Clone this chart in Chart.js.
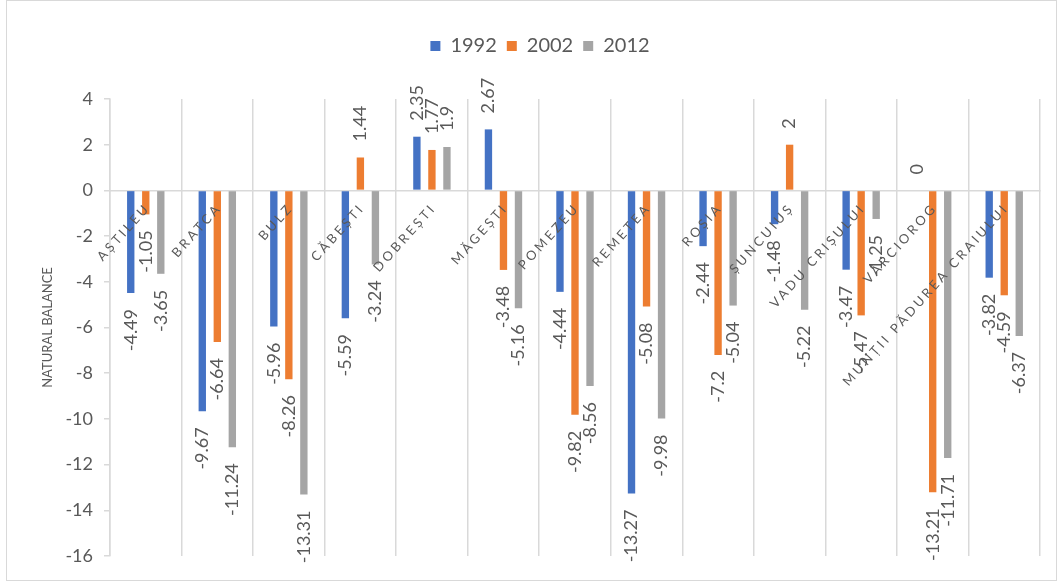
<!DOCTYPE html>
<html>
<head>
<meta charset="utf-8">
<title>Natural balance 1992 / 2002 / 2012</title>
<script src="https://cdn.jsdelivr.net/npm/chart.js@4.4.1/dist/chart.umd.min.js"></script>
<style>
  html, body { margin: 0; padding: 0; background: #ffffff; }
  canvas { display: block; }
</style>
</head>
<body>
<canvas id="chart" width="1063" height="581"></canvas>
<script>
// Localities on the category axis
const categories = [
  'AȘTILEU', 'BRATCA', 'BULZ', 'CĂBEȘTI', 'DOBREȘTI', 'MĂGEȘTI', 'POMEZEU',
  'REMETEA', 'ROȘIA', 'ȘUNCUIUȘ', 'VADU CRIȘULUI', 'VÂRCIOROG', 'MUNȚII PĂDUREA CRAIULUI'
];

// Census years (one series each)
const years = ['1992', '2002', '2012'];

// Natural balance per locality and year
const values1992 = [-4.49, -9.67, -5.96, -5.59, 2.35, 2.67, -4.44, -13.27, -2.44, -1.48, -3.47, 0, -3.82];
const values2002 = [-1.05, -6.64, -8.26, 1.44, 1.77, -3.48, -9.82, -5.08, -7.2, 2, -5.47, -13.21, -4.59];
const values2012 = [-3.65, -11.24, -13.31, -3.24, 1.9, -5.16, -8.56, -9.98, -5.04, -5.22, -1.25, -11.71, -6.37];

// Value axis ticks
const yTickMin = -16;
const yTickMax = 4;
const yTickStep = 2;
const yAxisTitle = 'NATURAL BALANCE';

const seriesColors = ['#4472C4', '#ED7D31', '#A5A5A5'];
const textColor = '#595959';
const lineColor = '#d9d9d9';
const fontFamily = "Lato, 'Liberation Sans', sans-serif";

// Light frame around the whole chart
const framePlugin = {
  id: 'frame',
  beforeDraw(chart) {
    const ctx = chart.ctx;
    ctx.save();
    ctx.strokeStyle = lineColor;
    ctx.lineWidth = 1;
    ctx.strokeRect(6.5, 0.5, chart.width - 13, chart.height - 1);
    ctx.restore();
  }
};

// Leaves room between the legend and the plot
const legendSpacePlugin = {
  id: 'legendSpace',
  beforeInit(chart) {
    const originalFit = chart.legend.fit;
    chart.legend.fit = function () {
      originalFit.call(this);
      this.height = 73;
    };
  }
};

// Category names written slanted along the zero line
const categoryLabelPlugin = {
  id: 'categoryLabels',
  afterDatasetsDraw(chart) {
    const ctx = chart.ctx;
    const xScale = chart.scales.x;
    const zeroY = chart.scales.y.getPixelForValue(0);
    ctx.save();
    ctx.font = '13px ' + fontFamily;
    ctx.fillStyle = textColor;
    ctx.textAlign = 'right';
    ctx.textBaseline = 'middle';
    if ('letterSpacing' in ctx) ctx.letterSpacing = '3px';
    categories.forEach((name, i) => {
      const cx = xScale.getPixelForValue(i);
      ctx.save();
      ctx.translate(cx + 2, zeroY + 15);
      ctx.rotate(-48 * Math.PI / 180);
      ctx.fillText(name, 0, 0);
      ctx.restore();
    });
    ctx.restore();
  }
};

// Vertical value labels just beyond the end of each bar
const valueLabelPlugin = {
  id: 'valueLabels',
  afterDatasetsDraw(chart) {
    const ctx = chart.ctx;
    ctx.save();
    ctx.font = '18px ' + fontFamily;
    ctx.fillStyle = textColor;
    ctx.textBaseline = 'middle';
    chart.data.datasets.forEach((ds, di) => {
      const meta = chart.getDatasetMeta(di);
      meta.data.forEach((bar, i) => {
        const v = ds.data[i];
        const positive = v >= 0;
        ctx.save();
        ctx.translate(bar.x, positive ? bar.y - 16 : bar.y + 16);
        ctx.rotate(-Math.PI / 2);
        ctx.textAlign = positive ? 'left' : 'right';
        ctx.fillText(String(v), 0, 0);
        ctx.restore();
      });
    });
    ctx.restore();
  }
};

const seriesValues = [values1992, values2002, values2012];

new Chart(document.getElementById('chart'), {
  type: 'bar',
  data: {
    labels: categories,
    datasets: years.map((year, i) => ({
      label: year,
      data: seriesValues[i],
      backgroundColor: seriesColors[i],
      borderWidth: 0,
      categoryPercentage: 0.63,
      barPercentage: 0.49
    }))
  },
  options: {
    responsive: false,
    devicePixelRatio: 1,
    animation: false,
    layout: { padding: { top: 26, left: 40, right: 23, bottom: 25 } },
    plugins: {
      tooltip: { enabled: false },
      legend: {
        position: 'top',
        labels: {
          boxWidth: 10,
          boxHeight: 10,
          padding: 10,
          color: textColor,
          font: { family: fontFamily, size: 20 }
        }
      }
    },
    scales: {
      x: {
        type: 'category',
        position: { y: 0 },
        grid: {
          offset: true,
          color: lineColor,
          lineWidth: 1.5,
          drawTicks: false
        },
        border: { color: lineColor, width: 1.5 },
        ticks: { display: false }
      },
      y: {
        min: yTickMin,
        max: yTickMax,
        afterFit(scale) { scale.width = 70; },
        ticks: {
          stepSize: yTickStep,
          color: textColor,
          padding: 11,
          font: { family: fontFamily, size: 18 }
        },
        grid: {
          drawOnChartArea: false,
          drawTicks: true,
          tickLength: 6,
          color: lineColor,
          lineWidth: 1.5
        },
        border: { color: lineColor, width: 1.5 },
        title: {
          display: true,
          text: yAxisTitle,
          color: textColor,
          padding: { top: 0, bottom: 0 },
          font: { family: fontFamily, size: 13 }
        }
      }
    }
  },
  plugins: [framePlugin, legendSpacePlugin, categoryLabelPlugin, valueLabelPlugin]
});
</script>
</body>
</html>
